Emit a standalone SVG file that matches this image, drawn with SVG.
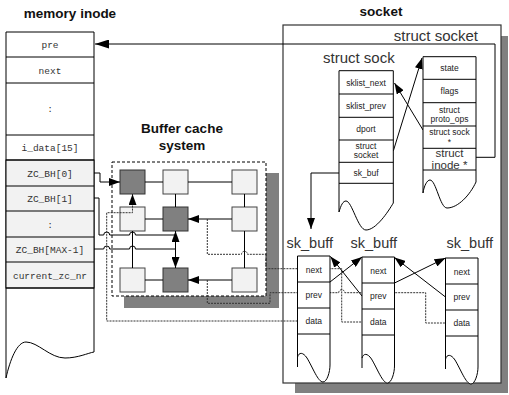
<svg xmlns="http://www.w3.org/2000/svg" width="509" height="395" viewBox="0 0 509 395">
<defs>
<marker id="ah" markerWidth="11" markerHeight="8" refX="11" refY="4" orient="auto-start-reverse" markerUnits="userSpaceOnUse"><path d="M0,0 L11,4 L0,8 z" fill="#000"/></marker>
<marker id="ahl" markerWidth="14" markerHeight="9" refX="14" refY="4.5" orient="auto" markerUnits="userSpaceOnUse"><path d="M0,0 L14,4.5 L0,9 z" fill="#000"/></marker>
</defs>
<style>
.title{font-family:"Liberation Sans",Arial,sans-serif;font-weight:bold;font-size:13.5px;fill:#111;text-anchor:middle}
.lbl{font-family:"Liberation Sans",Arial,sans-serif;font-size:15px;fill:#333}
.sk{font-family:"Liberation Sans",Arial,sans-serif;font-size:14.5px;fill:#333}
.mono{font-family:"Liberation Mono","Courier New",monospace;font-size:9.5px;fill:#333;text-anchor:middle}
.cell{font-family:"Liberation Sans",Arial,sans-serif;font-size:8.5px;fill:#222;text-anchor:middle}
.big{font-family:"Liberation Sans",Arial,sans-serif;font-size:11.5px;fill:#333;text-anchor:middle}
.ln{fill:none;stroke:#000;stroke-width:1}
.dash{fill:none;stroke:#333;stroke-width:1;stroke-dasharray:2 1}
.wh{fill:#fff;stroke:#000;stroke-width:1}
.lg{fill:#f2f2f2;stroke:#444;stroke-width:1}
.dk{fill:#808080;stroke:#333;stroke-width:1}
.shadow{fill:#808080}
</style>

<g id="memory-inode">
<text class="title" x="70" y="18">memory inode</text>
<path class="wh" d="M6,32 H94 V352 C88,353 78,358 65,358 C50,358 38,342 26,342 C17,342 10,360 6,378 Z"/>
<rect x="6" y="160" width="88" height="128" fill="#f2f2f2" stroke="#000"/>
<path class="ln" d="M6,57H94 M6,83H94 M6,135H94 M6,160H94 M6,186H94 M6,211H94 M6,237H94 M6,262H94 M6,288H94"/>
<text class="mono" x="50" y="48">pre</text>
<text class="mono" x="50" y="73.5">next</text>
<text class="mono" x="50" y="112">:</text>
<text class="mono" x="50" y="151">i_data[15]</text>
<text class="mono" x="50" y="176.5">ZC_BH[0]</text>
<text class="mono" x="50" y="202">ZC_BH[1]</text>
<text class="mono" x="50" y="227.5">:</text>
<text class="mono" x="50" y="253">ZC_BH[MAX-1]</text>
<text class="mono" x="50" y="278.5">current_zc_nr</text>
</g>

<g id="buffer-cache">
<text class="title" x="182" y="133">Buffer cache</text>
<text class="title" x="182" y="150">system</text>
<rect class="shadow" x="124" y="173" width="155" height="135"/>
<rect x="112" y="162" width="154" height="134" fill="#fff" stroke="#000" stroke-dasharray="3 2"/>
</g>
<g id="buf-1-1"><rect class="dk" x="120" y="170" width="25" height="24"/></g>
<g id="buf-1-2"><rect class="lg" x="163" y="170" width="25" height="24"/></g>
<g id="buf-1-3"><rect class="lg" x="232" y="170" width="25" height="24"/></g>
<g id="buf-2-1"><rect class="lg" x="120" y="207" width="25" height="24"/></g>
<g id="buf-2-2"><rect class="dk" x="163" y="207" width="25" height="24"/></g>
<g id="buf-2-3"><rect class="lg" x="232" y="207" width="25" height="24"/></g>
<g id="buf-3-1"><rect class="lg" x="120" y="268" width="25" height="24"/></g>
<g id="buf-3-2"><rect class="dk" x="163" y="268" width="25" height="24"/></g>
<g id="buf-3-3"><rect class="lg" x="232" y="268" width="25" height="24"/></g>

<g id="socket">
<text class="title" x="381" y="16">socket</text>
<rect class="shadow" x="295" y="36" width="213" height="357"/>
<rect x="283" y="25" width="218" height="358" fill="#fff" stroke="#333" stroke-width="1.2"/>
<text class="lbl" x="478" y="41" text-anchor="end">struct socket</text>
<text class="lbl" x="323" y="63">struct sock</text>
</g>

<g id="connectors">
<path class="ln" d="M145,182H163 M188,182H232 M145,219H163 M145,280H163 M175.5,194V207 M244.5,194V207 M244.5,231V268 M132.5,231V268"/>
<path class="ln" d="M232,219H188" marker-end="url(#ah)"/>
<path class="ln" d="M232,280H188" marker-end="url(#ah)"/>
<path class="ln" d="M175.5,231V268" marker-start="url(#ah)" marker-end="url(#ah)"/>
<path class="ln" d="M94,173H100V182H120" marker-end="url(#ah)"/>
<path class="ln" d="M94,198H99V235H103.7a3,3 0 0 1 6,0H129.5a3,3 0 0 1 6,0H175.5"/>
<path class="ln" d="M94,249H103.7a3,3 0 0 1 6,0H129.5a3,3 0 0 1 6,0H175.5"/>
<path class="dash" d="M297.5,321H106.7V212.7H132.5V194" marker-end="url(#ah)"/>
<path class="dash" d="M207.3,219V254.3H241.5a3,3 0 0 1 6,0H266V268.7H341.7V322H362"/>
<path class="dash" d="M207.3,280V303.3H270V292.7H338.7a3,3 0 0 1 6,0H425.7V323H445.5"/>
<path class="ln" d="M476,157.3H495V44H95" marker-end="url(#ahl)"/>
<path class="ln" d="M393.3,151L422,58" marker-end="url(#ah)"/>
<path class="ln" d="M423,130L394.5,83" marker-end="url(#ah)"/>
<path class="ln" d="M339,173H311V229" marker-end="url(#ah)"/>
<path class="ln" d="M330,282L362,257" marker-end="url(#ah)"/>
<path class="ln" d="M362,296L330.5,256.5" marker-end="url(#ah)"/>
<path class="ln" d="M394.5,283L445.5,258" marker-end="url(#ah)"/>
<path class="ln" d="M445.5,297L394.5,257.5" marker-end="url(#ah)"/>
</g>

<g id="struct-sock">
<path class="wh" d="M339,70.7H393.3V203C388,212 376,230 366,230C358,230 352,201 346,201C343,201 341,205 339,212Z"/>
<path class="ln" d="M339,94H393.3 M339,117.3H393.3 M339,140H393.3 M339,162.3H393.3 M339,183.3H393.3"/>
<text class="cell" x="366" y="85.5">sklist_next</text>
<text class="cell" x="366" y="108.5">sklist_prev</text>
<text class="cell" x="366" y="131.5">dport</text>
<text class="cell" x="366" y="148.5">struct</text>
<text class="cell" x="366" y="157.5">socket</text>
<text class="cell" x="366" y="175.5">sk_buf</text>
</g>

<g id="struct-socket">
<path class="wh" d="M423,56.7H476V182C470,195 458,208 447,208C440,208 436,180 430,180C427,180 424,186 423,193Z"/>
<path class="ln" d="M423,79.3H476 M423,102.7H476 M423,126H476 M423,148.3H476 M423,170H476"/>
<text class="cell" x="449.5" y="71">state</text>
<text class="cell" x="449.5" y="94">flags</text>
<text class="cell" x="449.5" y="112.5">struct</text>
<text class="cell" x="449.5" y="121.5">proto_ops</text>
<text class="cell" x="449.5" y="134.5">struct sock</text>
<text class="cell" x="449.5" y="145">*</text>
<text class="big" x="449.5" y="157">struct</text>
<text class="big" x="449.5" y="169">inode *</text>
</g>

<g id="sk_buff-1">
<text class="sk" x="286.5" y="247.5">sk_buff</text>
<g transform="translate(297.5,256)">
<path class="wh" d="M0,0H32.5V109C32.5,116 29.5,126 25.5,126C20.5,126 15.5,112 9.5,102C5.5,96 1.5,96 0,101Z"/>
<path class="ln" d="M0,101V111 M0,26H32.5 M0,52H32.5 M0,78H32.5"/>
<text class="cell" x="16.25" y="16.5">next</text>
<text class="cell" x="16.25" y="42">prev</text>
<text class="cell" x="16.25" y="68">data</text>
</g>
</g>

<g id="sk_buff-2">
<text class="sk" x="350.5" y="247.5">sk_buff</text>
<g transform="translate(362,257)">
<path class="wh" d="M0,0H32.5V109C32.5,116 29.5,126 25.5,126C20.5,126 15.5,112 9.5,102C5.5,96 1.5,96 0,101Z"/>
<path class="ln" d="M0,101V111 M0,26H32.5 M0,52H32.5 M0,78H32.5"/>
<text class="cell" x="16.25" y="16.5">next</text>
<text class="cell" x="16.25" y="42">prev</text>
<text class="cell" x="16.25" y="68">data</text>
</g>
</g>

<g id="sk_buff-3">
<text class="sk" x="446.5" y="247.5">sk_buff</text>
<g transform="translate(445.5,258)">
<path class="wh" d="M0,0H32.5V109C32.5,116 29.5,126 25.5,126C20.5,126 15.5,112 9.5,102C5.5,96 1.5,96 0,101Z"/>
<path class="ln" d="M0,101V111 M0,26H32.5 M0,52H32.5 M0,78H32.5"/>
<text class="cell" x="16.25" y="16.5">next</text>
<text class="cell" x="16.25" y="42">prev</text>
<text class="cell" x="16.25" y="68">data</text>
</g>
</g>
</svg>
